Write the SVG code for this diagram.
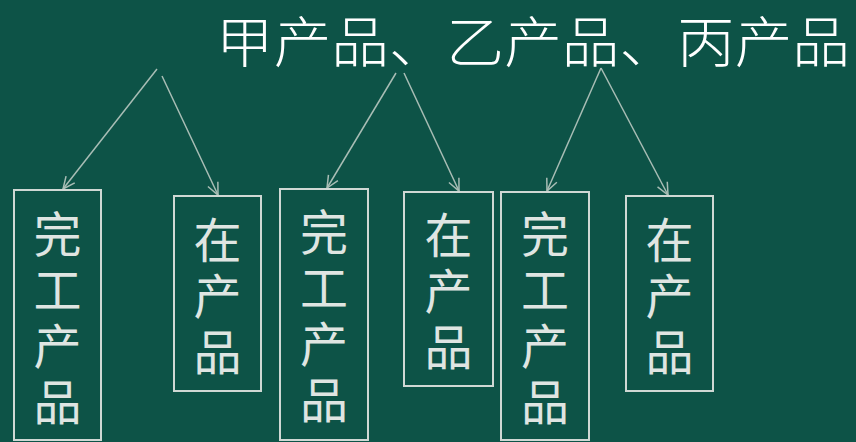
<svg xmlns="http://www.w3.org/2000/svg" width="856" height="442" viewBox="0 0 856 442">
<defs>
<marker id="arr" viewBox="0 0 14 14" refX="13" refY="7" markerWidth="14" markerHeight="14" markerUnits="userSpaceOnUse" orient="auto">
<path d="M1,1.5 L13,7 L1,12.5" fill="none" stroke="#a8bdb5" stroke-width="1.5"/>
</marker>
<style>
.title{font-family:"Noto Sans CJK SC","Noto Sans CJK JP",sans-serif;font-size:55px;font-weight:300;fill:#ffffff}
.box{fill:none;stroke:#cfd8d4;stroke-width:2}
.lbl{font-family:"Noto Sans CJK SC","Noto Sans CJK JP",sans-serif;font-size:48px;font-weight:400;fill:#dfe5e2;text-anchor:middle}
.con{stroke:#a8bdb5;stroke-width:1.5;fill:none;marker-end:url(#arr)}
</style>
</defs>
<rect x="0" y="0" width="856" height="442" fill="#0d5347"/>
<g id="title">
<text class="title" x="216" y="62" textLength="634" lengthAdjust="spacingAndGlyphs">甲产品、乙产品、丙产品</text>
</g>
<g id="connectors">
<line class="con" x1="157" y1="69" x2="63" y2="189"/>
<line class="con" x1="162" y1="76" x2="218" y2="195"/>
<line class="con" x1="396" y1="73" x2="327" y2="188"/>
<line class="con" x1="404" y1="73" x2="459" y2="191"/>
<line class="con" x1="601" y1="68" x2="547" y2="191"/>
<line class="con" x1="601" y1="68" x2="668" y2="195"/>
</g>
<g id="node1">
<rect class="box" x="14" y="190" width="87" height="250"/>
<text class="lbl" x="57.5" y="252">完</text>
<text class="lbl" x="57.5" y="308">工</text>
<text class="lbl" x="57.5" y="364">产</text>
<text class="lbl" x="57.5" y="420">品</text>
</g>
<g id="node2">
<rect class="box" x="174" y="196" width="87" height="195"/>
<text class="lbl" x="217.5" y="258">在</text>
<text class="lbl" x="217.5" y="314">产</text>
<text class="lbl" x="217.5" y="370">品</text>
</g>
<g id="node3">
<rect class="box" x="280" y="189" width="88" height="251"/>
<text class="lbl" x="324" y="250">完</text>
<text class="lbl" x="324" y="306">工</text>
<text class="lbl" x="324" y="362">产</text>
<text class="lbl" x="324" y="418">品</text>
</g>
<g id="node4">
<rect class="box" x="404" y="192" width="89" height="194"/>
<text class="lbl" x="448.5" y="253">在</text>
<text class="lbl" x="448.5" y="309">产</text>
<text class="lbl" x="448.5" y="365">品</text>
</g>
<g id="node5">
<rect class="box" x="501" y="192" width="88" height="248"/>
<text class="lbl" x="545" y="252">完</text>
<text class="lbl" x="545" y="308">工</text>
<text class="lbl" x="545" y="364">产</text>
<text class="lbl" x="545" y="420">品</text>
</g>
<g id="node6">
<rect class="box" x="626" y="196" width="87" height="195"/>
<text class="lbl" x="669.5" y="258">在</text>
<text class="lbl" x="669.5" y="314">产</text>
<text class="lbl" x="669.5" y="370">品</text>
</g>
</svg>
